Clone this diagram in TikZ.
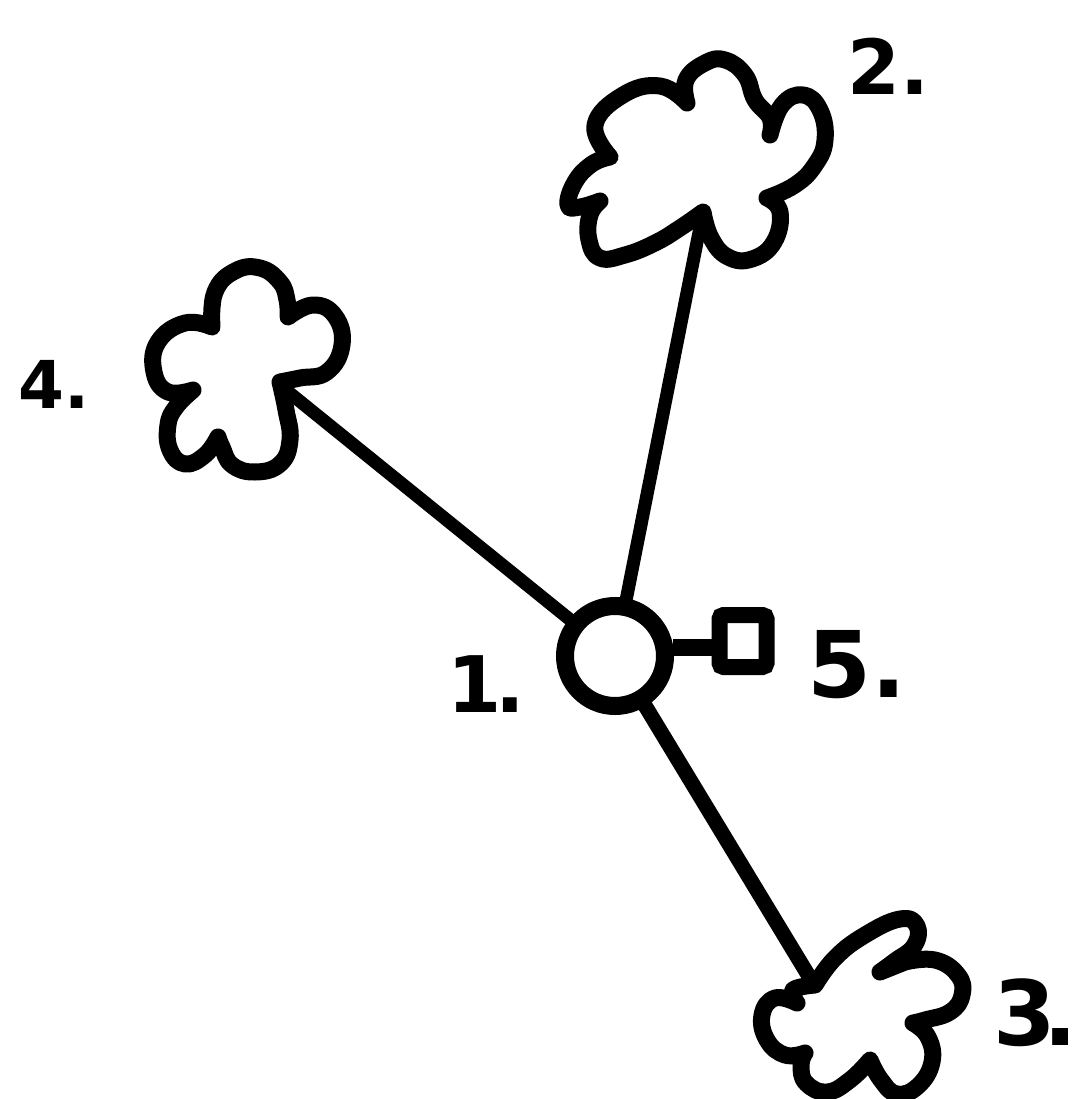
\documentclass[tikz,border=0pt]{standalone}
\usepackage{fontspec}
\setmainfont{DejaVu Sans}
\begin{document}
\begin{tikzpicture}[x=1pt,y=-1pt,
  cloud/.style={line width=17pt, line join=round, line cap=round},
  link/.style={line width=13pt, line cap=round},
  lab/.style={inner sep=0pt, anchor=base west, font=\bfseries}]
\useasboundingbox (0,0) rectangle (1079,1099);
% central nodes
\node[circle, draw, line width=18pt, minimum size=100pt, inner sep=0pt] (n1) at (615,656) {};
\node[rectangle, draw, line width=16pt, minimum width=47pt, minimum height=52pt, inner sep=0pt, rounded corners=4pt] (n5) at (743,641) {};
% cloud attachment points
\coordinate (c2) at (703,212);
\coordinate (c4) at (281,386);
\coordinate (c3) at (810,978);
% cloud 2
\draw[cloud] plot[smooth,tension=.75] coordinates {(610,157) (595,125) (623,95) (660,86) (687,103)}
  -- plot[smooth,tension=.75] coordinates {(687,103) (686,80) (705,63) (725,60) (745,75) (755,100) (770,118) (770,135)}
  -- plot[smooth,tension=.75] coordinates {(770,135) (782,105) (803,95) (820,110) (825,140) (815,165) (795,185) (767,198)}
  -- plot[smooth,tension=.75] coordinates {(767,198) (780,212) (774,242) (752,259) (728,257) (711,238) (703,212)}
  -- plot[smooth,tension=.75] coordinates {(703,212) (680,228) (655,243) (625,255) (600,258) (589,240) (590,215) (600,201)}
  -- plot[smooth,tension=.75] coordinates {(600,201) (580,207) (568,205) (575,182) (592,164) (610,157)}
  -- cycle;
% cloud 4
\draw[cloud] plot[smooth,tension=.75] coordinates {(212,327) (215,292) (235,271) (260,268) (280,282) (287,300) (288,317)}
  -- plot[smooth,tension=.75] coordinates {(288,317) (313,305) (335,316) (342,345) (327,372) (300,378) (280,382)}
  -- plot[smooth,tension=.75] coordinates {(280,382) (286,410) (290,440) (280,464) (255,472) (232,465) (222,447) (218,437)}
  -- plot[smooth,tension=.75] coordinates {(218,437) (205,455) (185,464) (170,450) (168,425) (176,407) (193,390)}
  -- plot[smooth,tension=.75] coordinates {(193,390) (168,392) (154,372) (158,342) (185,323) (212,327)}
  -- cycle;
% cloud 3
\draw[cloud] plot[smooth,tension=.75] coordinates {(815,985) (835,958) (865,935) (900,919) (917,926) (914,946) (895,961) (880,972)}
  -- plot[smooth,tension=.75] coordinates {(905,962) (935,960) (958,975) (962,995) (950,1012) (925,1020) (913,1023)}
  -- plot[smooth,tension=.75] coordinates {(913,1023) (928,1037) (932,1062) (918,1086) (897,1094) (881,1080) (870,1060)}
  -- plot[smooth,tension=.75] coordinates {(870,1060) (850,1080) (827,1092) (806,1083) (801,1065) (805,1053)}
  -- plot[smooth,tension=.75] coordinates {(805,1053) (785,1055) (767,1040) (762,1015) (775,998) (797,1003)}
  -- plot[smooth,tension=.75] coordinates {(797,1003) (793,990) (815,985)}
  -- cycle;
% connectors
\draw[link] (n1) -- (c2);
\draw[link] (n1) -- (c4);
\draw[link, line width=15pt] (n1) -- (c3);
\draw[line width=17pt] (n1.8) -- (n1.8 -| n5.west);
% labels
\node[lab] (l1) at (447,712) {\fontsize{78}{80}\selectfont 1\kern-0.08em.};
\node[lab] (l2) at (847,95) {\fontsize{76}{80}\selectfont 2.};
\node[lab] (l3) at (993,1045) {\fontsize{90}{94}\selectfont 3\kern-0.14em.};
\node[lab] (l4) at (18,408) {\fontsize{66}{70}\selectfont 4.};
\node[lab] (l5) at (807,697) {\fontsize{92}{94}\selectfont 5.};
\end{tikzpicture}
\end{document}
